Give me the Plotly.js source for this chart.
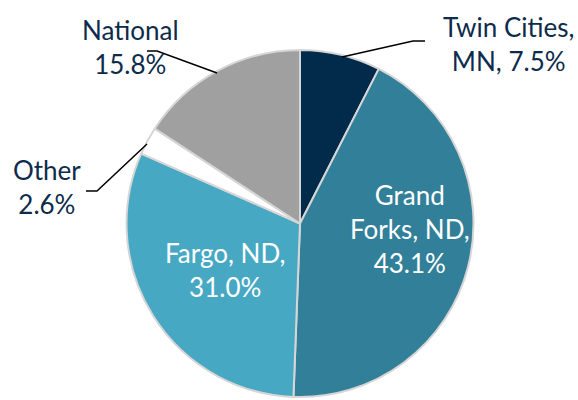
<!DOCTYPE html>
<html>
<head>
<meta charset="utf-8">
<script src="https://cdn.plot.ly/plotly-3.0.1.min.js"></script>
<style>html,body{margin:0;padding:0;background:#fff;}#chart{width:578px;height:400px;}</style>
</head>
<body>
<div id="chart"></div>
<script>
const labels = ["Twin Cities, MN", "Grand Forks, ND", "Fargo, ND", "Other", "National"];
const values = [7.5, 43.1, 31.0, 2.6, 15.8];
const colors = ["#022A4A", "#317F98", "#47A8C4", "#FFFFFF", "#A0A0A0"];
const labelText = ["Twin Cities,<br>MN, 7.5%", "Grand<br>Forks, ND,<br>43.1%", "Fargo, ND,<br>31.0%", "Other<br>2.6%", "National<br>15.8%"];

// label positions (paper px) and colours
const W = 578, H = 400;
const pos = [[508, 44], [410, 229], [225, 270], [47, 187], [130, 47]];
const txtColors = ["#0D2B4B", "#FFFFFF", "#FFFFFF", "#0D2B4B", "#0D2B4B"];
const FONT = "Lato, 'Open Sans', sans-serif";

const annotations = labelText.map((t, i) => ({
  text: t,
  x: pos[i][0] / W, y: 1 - pos[i][1] / H,
  xref: 'paper', yref: 'paper',
  xanchor: 'center', yanchor: 'middle',
  showarrow: false, align: 'center',
  font: {family: FONT, size: 26, color: txtColors[i]}
}));

const leader = (pts) => ({
  type: 'path', xref: 'paper', yref: 'paper',
  path: pts.map((p, i) => (i ? 'L' : 'M') + (p[0] / W) + ',' + (1 - p[1] / H)).join(' '),
  line: {color: '#000000', width: 1.5}
});
const shapes = [
  leader([[425, 41], [413, 41], [342, 57]]),
  leader([[147, 51], [157, 51], [217, 73]]),
  leader([[86, 191], [97, 191], [147, 144]])
];

const trace = {
  type: 'pie',
  labels: labels,
  values: values,
  sort: false,
  direction: 'clockwise',
  rotation: 0,
  textinfo: 'none',
  hoverinfo: 'label+percent',
  marker: {colors: colors, line: {color: '#D6D6D6', width: 2}},
  domain: {x: [125 / W, 475 / W], y: [3 / H, 350 / H]}
};

Plotly.newPlot('chart', [trace], {
  width: W, height: H,
  margin: {l: 0, r: 0, t: 0, b: 0},
  paper_bgcolor: '#fff',
  showlegend: false,
  annotations: annotations,
  shapes: shapes
}, {displayModeBar: false, staticPlot: true});
</script>
</body>
</html>
